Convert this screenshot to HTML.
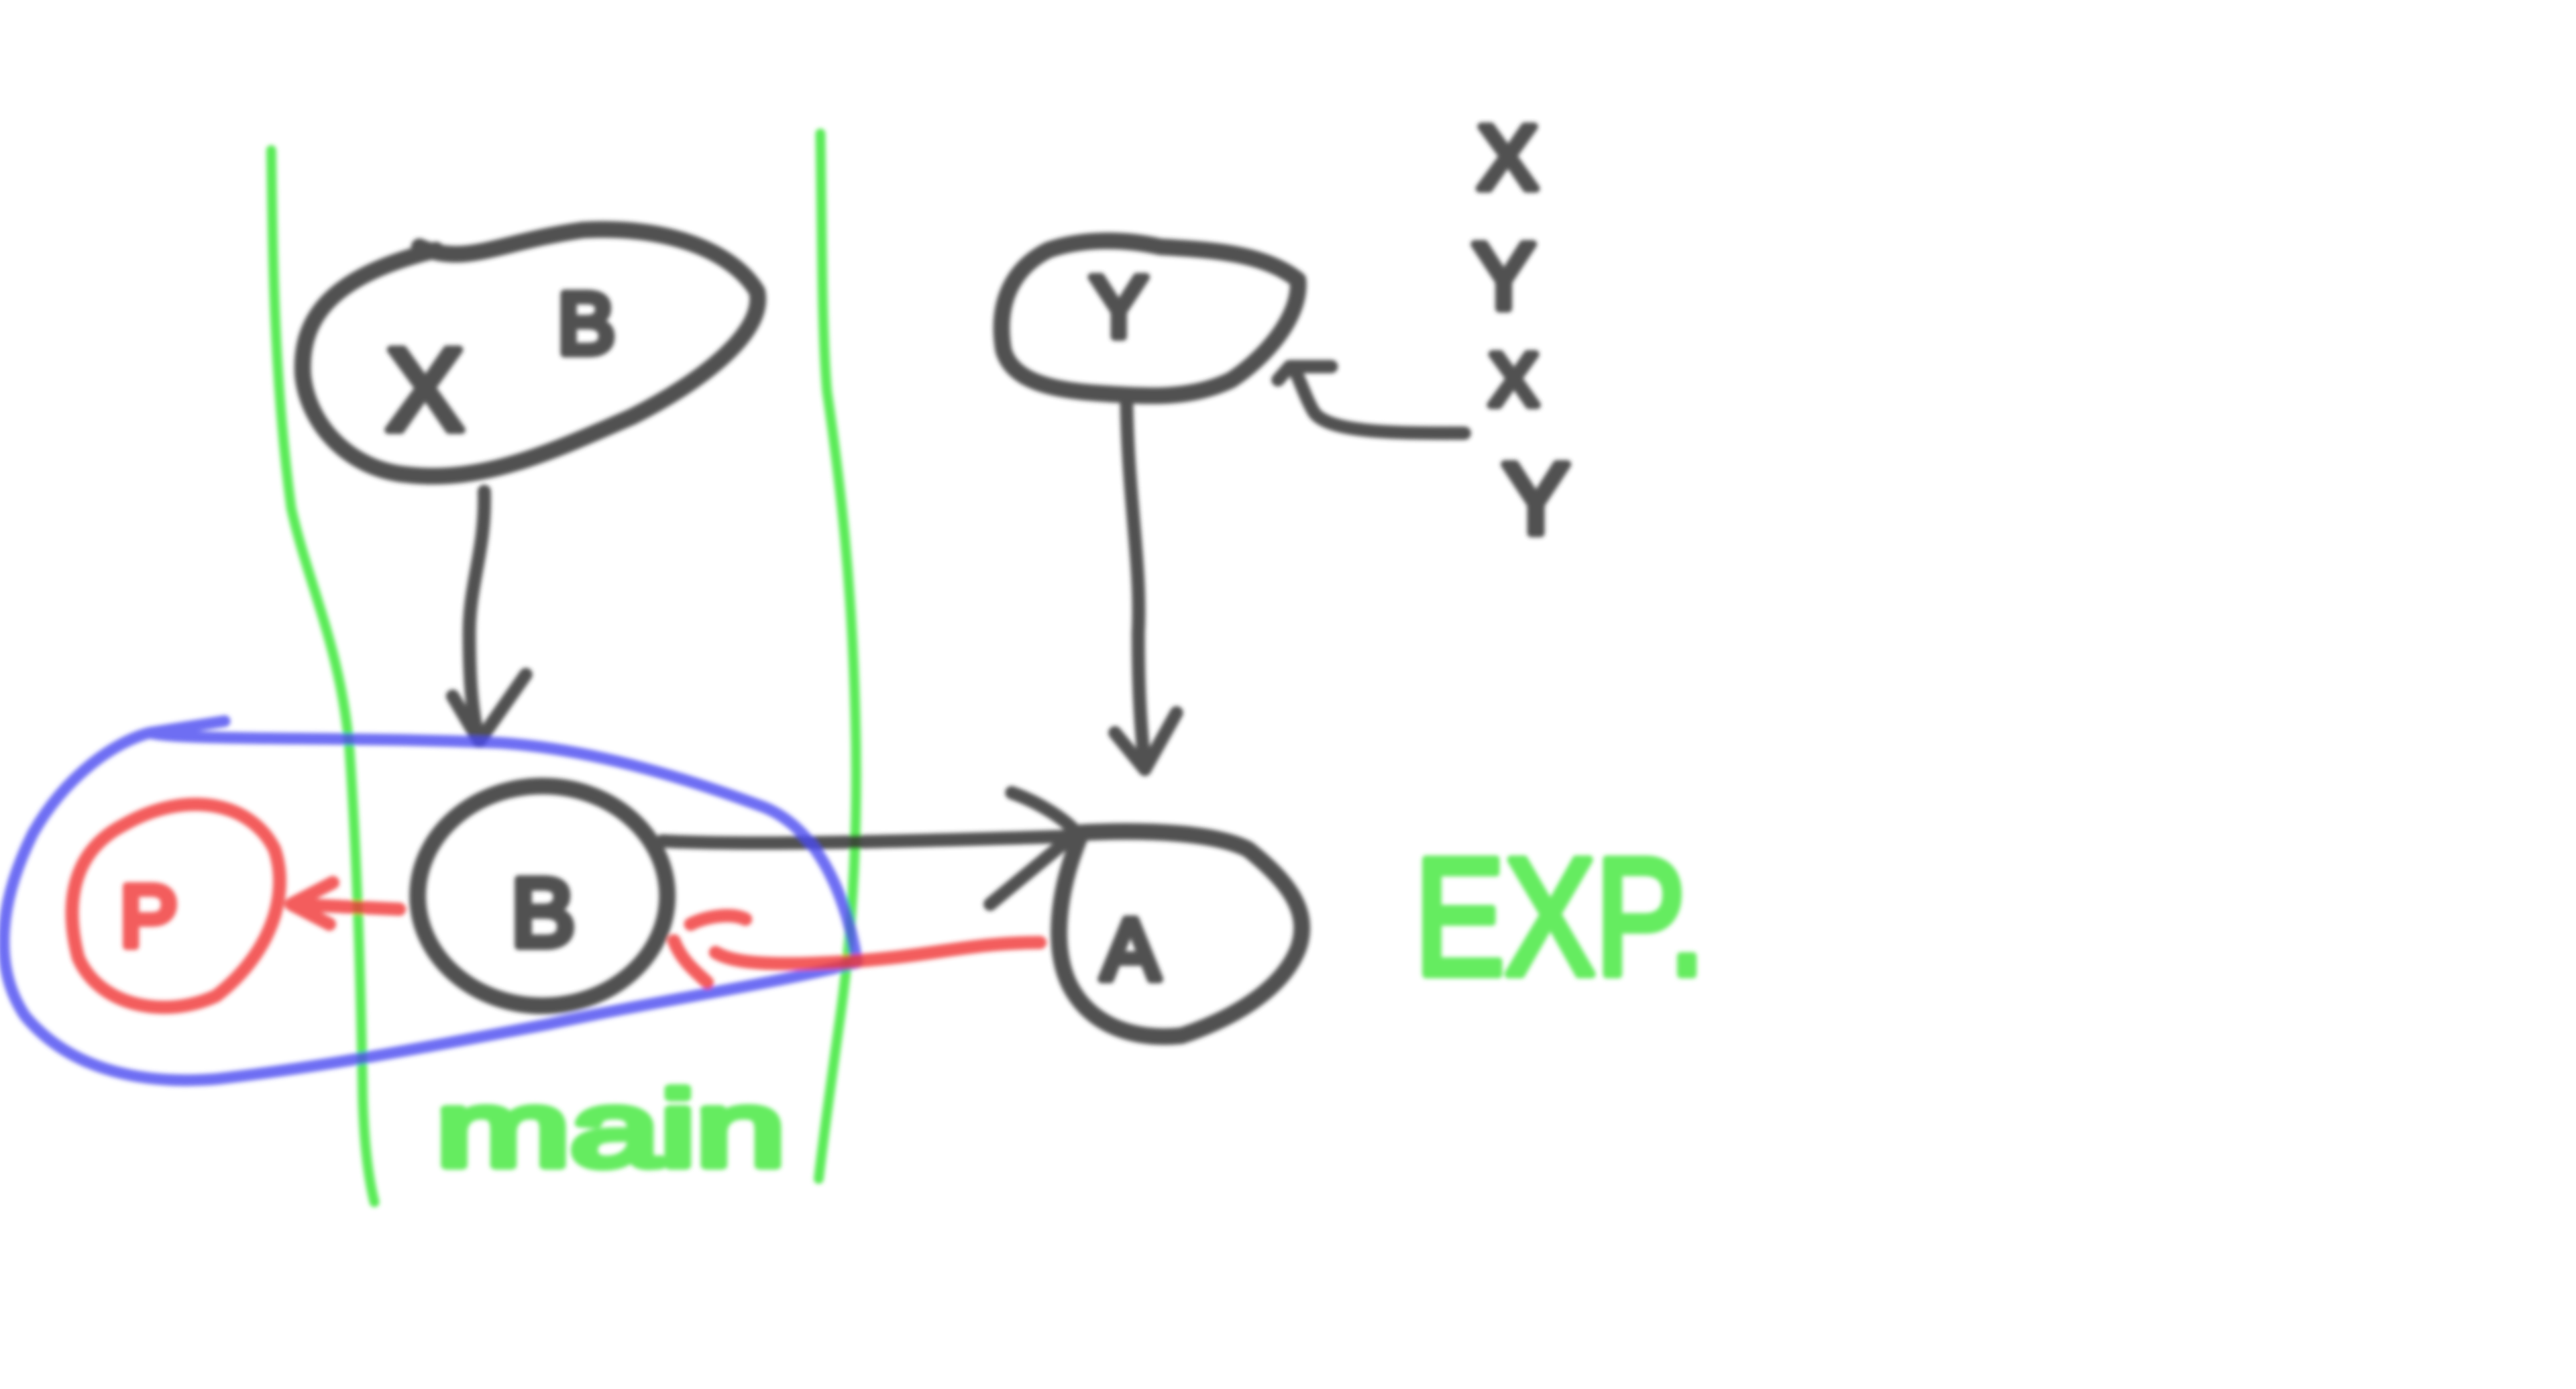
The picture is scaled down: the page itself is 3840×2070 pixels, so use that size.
<!DOCTYPE html>
<html><head><meta charset="utf-8"><style>
html,body{margin:0;padding:0;background:#fff;width:3840px;height:2070px;overflow:hidden}
svg{display:block}
text{font-family:"Liberation Sans",sans-serif;font-weight:normal}
</style></head><body>
<svg width="3840" height="2070" viewBox="0 0 1548 834" xmlns="http://www.w3.org/2000/svg">
<defs><filter id="soft" x="-5%" y="-5%" width="110%" height="110%"><feGaussianBlur stdDeviation="1.3"/></filter></defs>
<g filter="url(#soft)">
<g fill="none" stroke-linecap="round" stroke-linejoin="round">
 <g stroke="#3ee83a" stroke-width="6" opacity="0.85">
  <path d="M163,90 C164,160 165,230 175,305 C185,350 205,390 210,450 C215,520 217,600 218,660 C219,690 222,710 225,722"/>
  <path d="M493,80 C494,150 494,200 497,235 C505,290 512,350 514,430 C516,500 512,560 505,610 C498,660 494,690 492,708"/>
 </g>
 <g stroke="#333" stroke-width="10" opacity="0.85">
  <path d="M252,148 C280,160 300,145 350,138 C400,135 440,150 455,175 C460,200 420,230 380,250 C330,272 290,290 245,285 C210,282 185,255 182,225 C180,190 200,165 262,150"/>
  <path d="M291,295 C292,330 282,350 282,380 C282,410 284,430 288,445 M272,418 L288,445 L316,405" stroke-width="8"/>
  <ellipse cx="326" cy="538" rx="75" ry="66"/>
  <path d="M398,505 C450,508 550,505 650,502 M608,476 C625,482 640,492 647,500 L595,543" stroke-width="8"/>
  <path d="M650,500 C690,498 730,500 750,510 C775,530 788,548 780,570 C770,595 740,612 710,622 C680,625 655,615 643,592 C632,570 635,535 650,500"/>
  <path d="M697,148 C730,150 760,152 780,168 C782,190 760,215 740,228 C715,240 690,238 660,236 C630,234 608,228 603,210 C598,180 610,160 630,150 C650,143 675,143 697,148"/>
  <path d="M677,242 C678,300 686,340 684,380 C684,420 686,440 688,462 M670,440 L688,462 L707,428" stroke-width="8"/>
  <path d="M880,260 C840,260 800,260 790,248 C785,240 782,230 778,222 M768,228 L775,220 L800,220" stroke-width="8"/>
 </g>
 <path stroke="#4a4af0" stroke-width="7" opacity="0.8" d="M135,433 L90,440 C110,445 200,442 300,446 C360,450 420,470 460,485 C495,500 510,545 515,578 C470,590 400,600 330,615 C260,628 200,640 130,648 C80,652 40,640 15,610 C-5,580 0,540 20,500 C40,465 70,445 90,440"/>
 <g stroke="#f03535" stroke-width="8" opacity="0.8">
  <path d="M75,495 C110,475 150,480 165,510 C175,540 160,575 130,598 C100,612 60,605 47,575 C38,540 45,510 75,495"/>
  <path d="M240,546 L175,543 M200,530 L175,543 L198,555"/>
  <path d="M625,566 C580,566 560,575 500,578 C460,580 440,578 430,572 M405,565 C410,578 420,585 425,590 M415,555 C425,550 440,548 448,552"/>
 </g>
</g>
<g fill="#333" stroke="#333" stroke-width="5" stroke-linejoin="round" opacity="0.85">
 <text x="232" y="258" font-size="70">X</text>
 <text x="335" y="212" font-size="52">B</text>
 <text x="307" y="568" font-size="58">B</text>
 <text x="662" y="588" font-size="52">A</text>
 <text x="655" y="202" font-size="52">Y</text>
 <text x="888" y="113" font-size="54">X</text>
 <text x="885" y="185" font-size="56">Y</text>
 <text x="895" y="243" font-size="44">X</text>
 <text x="903" y="320" font-size="60">Y</text>
</g>
<g fill="#f03535" stroke="#f03535" stroke-width="5" stroke-linejoin="round" opacity="0.8">
 <text x="72" y="568" font-size="52">P</text>
</g>
<g fill="#3ee83a" stroke="#3ee83a" stroke-width="5" stroke-linejoin="round" opacity="0.8">
 <text x="262" y="700" font-size="64" textLength="210" lengthAdjust="spacingAndGlyphs">main</text>
 <text x="850" y="585" font-size="100" textLength="175" lengthAdjust="spacingAndGlyphs">EXP.</text>
</g>
</g>
</svg>
</body></html>
